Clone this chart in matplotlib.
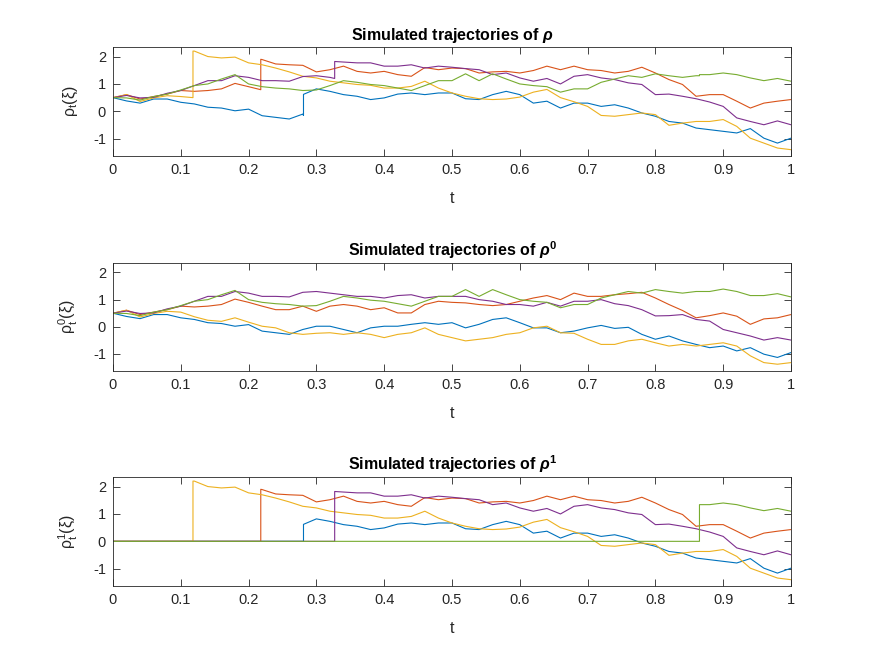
import numpy as np
import matplotlib.pyplot as plt

t = np.round(np.arange(51) * 0.02, 2)
nan = np.nan

# rho^0 trajectories (continuous part)
blue0 = [0.50, 0.38, 0.30, 0.45, 0.45, 0.33, 0.27, 0.15, 0.12, 0.02, 0.08, -0.16, -0.22,
         -0.28, -0.10, 0.02, 0.02, -0.10, -0.22, -0.04, 0.02, 0.02, 0.09, 0.15, 0.09, 0.15,
         -0.04, 0.09, 0.27, 0.33, 0.15, -0.04, -0.04, -0.22, -0.16, -0.04, 0.05, -0.06, -0.02,
         -0.28, -0.46, -0.34, -0.52, -0.65, -0.77, -0.71, -0.89, -0.77, -1.01, -1.13, -0.95]
red0 = [0.50, 0.61, 0.45, 0.54, 0.63, 0.76, 0.73, 0.76, 0.82, 1.02, 0.90, 0.76, 0.63, 0.63,
        0.76, 0.57, 0.76, 0.82, 0.76, 0.63, 0.70, 0.51, 0.51, 0.82, 0.94, 0.90, 0.88, 0.82,
        0.78, 0.82, 0.94, 1.06, 1.15, 1.00, 1.24, 1.12, 1.12, 1.18, 1.22, 1.27, 1.06, 0.82,
        0.60, 0.33, 0.41, 0.51, 0.39, 0.09, 0.29, 0.33, 0.45]
yellow0 = [0.50, 0.61, 0.36, 0.49, 0.57, 0.54, 0.37, 0.24, 0.20, 0.33, 0.17, 0.02, -0.04,
           -0.22, -0.28, -0.24, -0.22, -0.28, -0.22, -0.28, -0.40, -0.28, -0.22, -0.04, -0.28,
           -0.40, -0.52, -0.46, -0.40, -0.28, -0.22, -0.04, 0.02, -0.22, -0.24, -0.46, -0.65,
           -0.65, -0.52, -0.46, -0.59, -0.71, -0.65, -0.71, -0.65, -0.59, -0.71, -1.07, -1.32,
           -1.38, -1.32]
purple0 = [0.50, 0.58, 0.49, 0.51, 0.66, 0.76, 0.94, 1.12, 1.12, 1.30, 1.24, 1.12, 1.12, 1.10,
           1.27, 1.30, 1.24, 1.18, 1.12, 1.12, 1.06, 1.15, 1.18, 1.06, 1.12, 1.12, 1.12, 1.00,
           0.94, 0.82, 0.82, 0.76, 0.90, 0.76, 0.94, 0.94, 1.00, 0.85, 0.78, 0.63, 0.40, 0.41,
           0.45, 0.27, 0.21, -0.10, -0.22, -0.34, -0.49, -0.40, -0.49]
green0 = [0.50, 0.49, 0.41, 0.54, 0.63, 0.78, 0.94, 1.00, 1.18, 1.34, 1.00, 0.90, 0.85, 0.82,
          0.76, 0.78, 0.94, 1.12, 1.06, 0.98, 0.94, 0.85, 0.76, 0.94, 1.12, 1.12, 1.37, 1.12,
          1.37, 1.18, 1.00, 0.94, 0.90, 0.70, 0.82, 0.82, 1.06, 1.18, 1.30, 1.24, 1.37, 1.30,
          1.24, 1.30, 1.30, 1.39, 1.30, 1.15, 1.15, 1.22, 1.10]

# rho^1 trajectories (zero before the jump, nan = before jump on this grid)
blue1 = [nan] * 15 + [0.82, 0.73, 0.61, 0.55, 0.43, 0.49, 0.63, 0.67, 0.61, 0.67,
                      0.67, 0.46, 0.43, 0.61, 0.73, 0.61, 0.30, 0.37, 0.12, 0.30,
                      0.30, 0.18, 0.24, 0.12, -0.06, -0.18, -0.37, -0.43, -0.61, -0.67,
                      -0.73, -0.79, -0.63, -0.98, -1.16, -0.98]
red1 = [nan] * 11 + [1.89, 1.73, 1.70, 1.68, 1.44, 1.52, 1.65, 1.46, 1.40, 1.46,
                     1.34, 1.28, 1.60, 1.52, 1.58, 1.56, 1.40, 1.44, 1.46, 1.40,
                     1.49, 1.65, 1.52, 1.65, 1.52, 1.49, 1.40, 1.46, 1.61, 1.40,
                     1.16, 0.98, 0.55, 0.61, 0.61, 0.37, 0.12, 0.30, 0.37, 0.43]
yellow1 = [nan] * 6 + [2.20, 2.00, 1.95, 1.98, 1.77, 1.70, 1.58, 1.44, 1.28, 1.22,
                       1.10, 1.04, 0.98, 0.95, 0.85, 0.85, 0.91, 1.10, 0.85, 0.67,
                       0.55, 0.46, 0.43, 0.45, 0.52, 0.70, 0.80, 0.50, 0.35, 0.18,
                       -0.15, -0.18, -0.12, -0.06, -0.12, -0.51, -0.43, -0.37, -0.37, -0.30,
                       -0.55, -0.98, -1.16, -1.34, -1.40]
purple1 = [nan] * 17 + [1.80, 1.77, 1.77, 1.65, 1.65, 1.70, 1.58, 1.65, 1.61, 1.56,
                        1.52, 1.34, 1.40, 1.22, 1.10, 1.20, 1.00, 1.28, 1.34, 1.22,
                        1.16, 1.04, 0.98, 0.61, 0.63, 0.55, 0.46, 0.34, 0.18, -0.24,
                        -0.37, -0.49, -0.35, -0.49]
green1 = [nan] * 44 + [1.34, 1.40, 1.34, 1.22, 1.12, 1.20, 1.10]

# jump times, value of rho^1 right after the jump, rho^0 just before the jump
tau = [0.281, 0.218, 0.118, 0.327, 0.865]
jump_start = [0.62, 1.90, 2.20, 1.82, 1.34]
pre_jump = [-0.15, 0.79, 0.50, 1.20, 1.30]

rho0 = [blue0, red0, yellow0, purple0, green0]
rho1 = [blue1, red1, yellow1, purple1, green1]
colors = ['#0072BD', '#D95319', '#EDB120', '#7E2F8E', '#77AC30']

plt.rcParams['font.family'] = ['Liberation Sans', 'DejaVu Sans']
plt.rcParams['axes.unicode_minus'] = False
plt.rcParams['mathtext.fontset'] = 'custom'
plt.rcParams['mathtext.rm'] = 'Liberation Sans'
plt.rcParams['mathtext.it'] = 'Liberation Sans:italic'
plt.rcParams['mathtext.bf'] = 'Liberation Sans:bold'
plt.rcParams['mathtext.bfit'] = 'Liberation Sans:bold:italic'

fig = plt.figure(figsize=(8.75, 6.57), dpi=100)
axes = [fig.add_axes([0.1291, 0.7626, 0.7749, 0.1659]),
        fig.add_axes([0.1291, 0.4353, 0.7749, 0.1644]),
        fig.add_axes([0.1291, 0.1081, 0.7749, 0.1659])]

for i in range(5):
    r0 = np.array(rho0[i])
    r1 = np.array(rho1[i])
    pre = t < tau[i]
    post = t > tau[i]

    # rho: rho^0 before the jump, rho^1 after
    x = np.concatenate([t[pre], [tau[i], tau[i]], t[post]])
    y = np.concatenate([r0[pre], [pre_jump[i], jump_start[i]], r1[post]])
    axes[0].plot(x, y, color=colors[i], linewidth=0.8)

    axes[1].plot(t, r0, color=colors[i], linewidth=0.8)

    x = np.concatenate([[0, tau[i], tau[i]], t[post]])
    y = np.concatenate([[0, 0, jump_start[i]], r1[post]])
    axes[2].plot(x, y, color=colors[i], linewidth=0.8)

titles = [r'Simulated trajectories of $\mathbfit{\rho}$',
          r'Simulated trajectories of $\mathbfit{\rho}^{\mathbf{0}}$',
          r'Simulated trajectories of $\mathbfit{\rho}^{\mathbf{1}}$']
ylabels = [r'$\mathrm{\rho_t(\xi)}$', r'$\mathrm{\rho^0_t(\xi)}$', r'$\mathrm{\rho^1_t(\xi)}$']

for ax, title, ylab in zip(axes, titles, ylabels):
    ax.set_xlim(0, 1)
    ax.set_ylim(-1.63, 2.35)
    ax.set_xticks(np.round(np.arange(11) * 0.1, 1))
    ax.set_xticklabels(['0', '0.1', '0.2', '0.3', '0.4', '0.5', '0.6', '0.7', '0.8', '0.9', '1'])
    ax.set_yticks([-1, 0, 1, 2])
    ax.tick_params(direction='in', top=True, right=True, length=5, width=0.6,
                   labelsize=10.5, colors='#262626', pad=5)
    for s in ax.spines.values():
        s.set_linewidth(0.6)
        s.set_color('#262626')
    ax.set_title(title, fontsize=11.5, fontweight='bold', pad=5)
    ax.set_xlabel('t', fontsize=11.5, color='#262626')
    ax.set_ylabel(ylab, fontsize=11.5, color='#262626')
    ax.yaxis.set_label_coords(-0.048, 0.5)
    ax.xaxis.set_label_coords(0.5, -0.32)

fig.savefig('out.png', dpi=100)
